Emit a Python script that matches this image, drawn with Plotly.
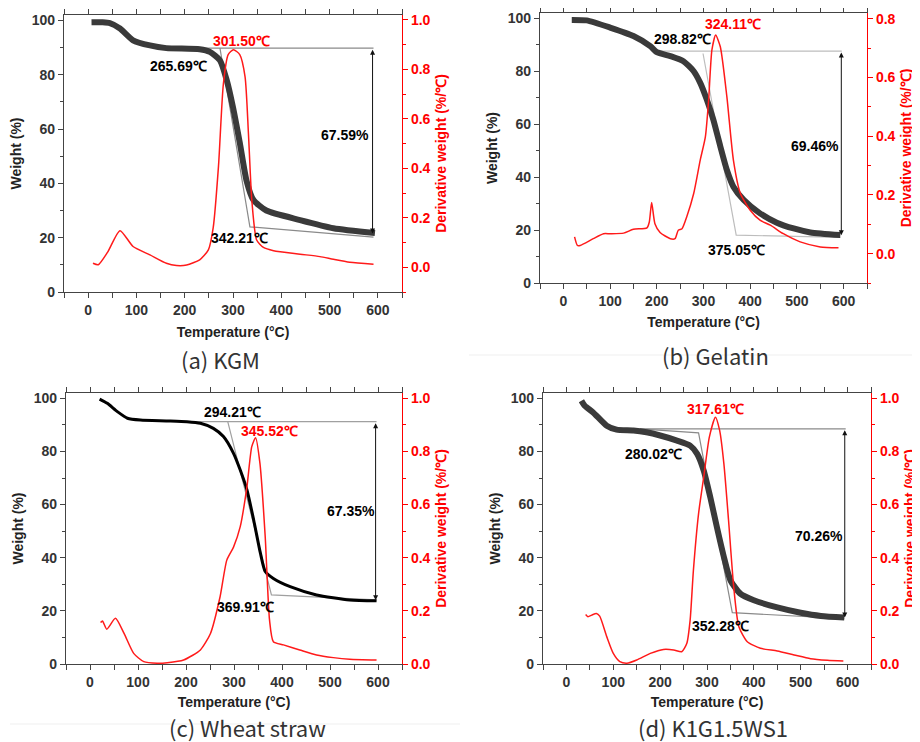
import plotly.graph_objects as go

# ---------------- data ----------------
# (a) KGM
kgm_T = [7, 30, 45, 66, 93, 128, 162, 231, 252, 273, 287, 300, 314, 328, 342, 369, 439, 508, 594]
kgm_W = [99.3, 99.3, 99.0, 97.0, 92.7, 90.8, 89.8, 89.4, 88.4, 85.3, 78, 68, 55, 41, 34, 30, 26.5, 23.5, 21.7]
kgm_dT = [10, 21, 40, 66, 93, 128, 162, 183, 204, 231, 249, 259, 270, 280, 290, 301, 314, 325, 332, 339, 349, 363, 384, 439, 480, 508, 542, 591]
kgm_D = [0.016, 0.010, 0.06, 0.148, 0.084, 0.05, 0.016, 0.007, 0.009, 0.03, 0.07, 0.16, 0.41, 0.74, 0.86, 0.88, 0.86, 0.77, 0.54, 0.27, 0.11, 0.08, 0.067, 0.053, 0.043, 0.032, 0.02, 0.012]
kgm_tan_x = [148, 591, None, 273, 335, 591]
kgm_tan_y = [89.8, 89.8, None, 89.8, 24.0, 20.2]

# (b) Gelatin
gel_T = [18, 50, 100, 150, 186, 200, 229, 257, 279, 293, 307, 321, 336, 350, 364, 386, 421, 457, 493, 529, 593]
gel_W = [99.4, 99.2, 96.5, 93.3, 89.5, 87.2, 85.7, 83.8, 80, 75.6, 69.3, 61.7, 51.6, 42.7, 36.4, 31.4, 26.3, 22.8, 20.6, 19.1, 18.1]
gel_dT = [24, 30, 36, 64, 86, 100, 129, 150, 179, 184, 189, 196, 207, 229, 239, 246, 254, 264, 279, 293, 304, 311, 318, 326, 336, 350, 364, 379, 400, 421, 443, 471, 507, 550, 589]
gel_D = [0.057, 0.028, 0.028, 0.051, 0.068, 0.068, 0.07, 0.083, 0.088, 0.108, 0.174, 0.102, 0.072, 0.051, 0.051, 0.08, 0.085, 0.125, 0.205, 0.319, 0.398, 0.524, 0.694, 0.745, 0.705, 0.535, 0.319, 0.205, 0.148, 0.114, 0.097, 0.068, 0.04, 0.023, 0.02]
gel_tan_x = [200, 596, None, 299, 370, 593]
gel_tan_y = [87.6, 87.6, None, 86.7, 18.1, 17.2]

# (c) Wheat straw
ws_T = [20, 36, 57, 78, 105, 161, 202, 230, 257, 278, 299, 313, 327, 341, 355, 365, 382, 417, 472, 541, 597]
ws_W = [99.7, 98.1, 95, 92.5, 91.8, 91.5, 91.2, 90.6, 88.7, 85.6, 79.3, 73, 65.5, 54.2, 41.7, 34.8, 32.2, 29.1, 26, 24.1, 23.8]
ws_dT = [22, 26, 35, 53, 71, 91, 112, 140, 161, 195, 230, 251, 271, 285, 299, 313, 327, 337, 345, 354, 365, 374, 382, 403, 437, 472, 507, 541, 597]
ws_D = [0.156, 0.162, 0.131, 0.172, 0.115, 0.04, 0.009, 0.003, 0.005, 0.015, 0.053, 0.115, 0.253, 0.391, 0.44, 0.517, 0.668, 0.818, 0.852, 0.756, 0.48, 0.166, 0.084, 0.072, 0.053, 0.034, 0.024, 0.018, 0.015]
ws_tan_x = [216, 597, None, 287, 378, 597]
ws_tan_y = [91.2, 91.2, None, 91.2, 26.0, 24.1]

# (d) K1G1.5WS1
mix_T = [32, 39, 57, 86, 107, 143, 171, 200, 236, 264, 279, 293, 307, 321, 336, 350, 371, 400, 450, 500, 543, 593]
mix_W = [99.1, 97.2, 94.7, 89.7, 88.2, 87.9, 87.2, 86, 84.1, 82.2, 79.1, 72.8, 62.8, 51.6, 40.3, 31.5, 26.5, 24, 21.3, 19.3, 18.1, 17.5]
mix_dT = [41, 46, 54, 64, 71, 86, 100, 114, 129, 150, 179, 207, 229, 246, 257, 264, 271, 282, 293, 305, 318, 327, 336, 346, 357, 368, 386, 414, 450, 486, 521, 557, 591]
mix_D = [0.186, 0.178, 0.184, 0.19, 0.18, 0.103, 0.04, 0.009, 0.003, 0.015, 0.04, 0.055, 0.053, 0.046, 0.078, 0.165, 0.353, 0.566, 0.703, 0.854, 0.929, 0.879, 0.754, 0.541, 0.29, 0.14, 0.084, 0.059, 0.049, 0.034, 0.02, 0.014, 0.011]
mix_tan_x = [157, 596, None, 157, 282, 354, 593]
mix_tan_y = [88.5, 88.5, None, 88.5, 87.0, 19.3, 17.1]

# arrows: (x, top, bottom)
arrows = [(589, 89.8, 21.5), (595, 87.6, 18.0), (595, 91.2, 24.0), (594, 88.5, 17.5)]

# annotation labels: (text, x, y, color)
labels_a = [("301.50℃", 318, 92.6, "red"), ("265.69℃", 187, 83.2, "black"), ("342.21℃", 313, 19.8, "black"), ("67.59%", 532, 57.8, "black")]
labels_b = [("324.11℃", 364, 97.7, "red"), ("298.82℃", 254, 92.3, "black"), ("375.05℃", 371, 12.4, "black"), ("69.46%", 539, 51.6, "black")]
labels_c = [("294.21℃", 297, 94.7, "black"), ("345.52℃", 374, 87.7, "red"), ("369.91℃", 323, 21.6, "black"), ("67.35%", 543, 57.6, "black")]
labels_d = [("317.61℃", 318, 96.1, "red"), ("280.02℃", 186, 79.1, "black"), ("352.28℃", 329, 14.3, "black"), ("70.26%", 539, 48.0, "black")]

captions = ["(a) KGM", "(b) Gelatin", "(c) Wheat straw", "(d) K1G1.5WS1"]
x_ticks = [0, 100, 200, 300, 400, 500, 600]
w_ticks = [0, 20, 40, 60, 80, 100]

# ---------------- layout geometry (page pixels; page has an 8px body margin) ----------------
OFF = 8
W, H = 912, 734


def fx(px):
    return (px - OFF) / W


def fy(py):
    return 1 - (py - OFF) / H


panels = [
    dict(T=kgm_T, Wt=kgm_W, dT=kgm_dT, D=kgm_D, tx=kgm_tan_x, ty=kgm_tan_y, labels=labels_a,
         box=(64, 402, 15, 292), r_range=[-0.1, 1.02], r_max=1.0, tg_color="#3a3a3a", tg_w=6,
         cap=(220, 359), tan_color="#8a8a8a", standoff=10),
    dict(T=gel_T, Wt=gel_W, dT=gel_dT, D=gel_D, tx=gel_tan_x, ty=gel_tan_y, labels=labels_b,
         box=(540, 867, 13, 283), r_range=[-0.1, 0.82], r_max=0.8, tg_color="#3a3a3a", tg_w=6,
         cap=(715, 355), tan_color="#bdbdbd", standoff=9),
    dict(T=ws_T, Wt=ws_W, dT=ws_dT, D=ws_D, tx=ws_tan_x, ty=ws_tan_y, labels=labels_c,
         box=(66, 402, 393, 664), r_range=[0, 1.02], r_max=1.0, tg_color="#000000", tg_w=3,
         cap=(247, 727), tan_color="#a0a0a0", standoff=8),
    dict(T=mix_T, Wt=mix_W, dT=mix_dT, D=mix_D, tx=mix_tan_x, ty=mix_tan_y, labels=labels_d,
         box=(543, 871, 393, 664), r_range=[0, 1.02], r_max=1.0, tg_color="#3a3a3a", tg_w=6,
         cap=(713, 727), tan_color="#8a8a8a", standoff=8),
]

FONT = "Liberation Sans, Arial, sans-serif"
fig = go.Figure()
layout = dict(
    width=W, height=H, margin=dict(l=0, r=0, t=0, b=0),
    paper_bgcolor="white", plot_bgcolor="white", showlegend=False,
    font=dict(family=FONT, color="#222"),
)
annotations = []
shapes = [
    dict(type="line", xref="paper", yref="paper", x0=fx(469), x1=1, y0=fy(355), y1=fy(355),
         line=dict(color="#efefef", width=1)),
    dict(type="line", xref="paper", yref="paper", x0=fx(10), x1=fx(460), y0=fy(724), y1=fy(724),
         line=dict(color="#efefef", width=1)),
]
tickfont_dark = dict(family=FONT, size=14, color="#333")
tickfont_red = dict(family=FONT, size=14, color="red")

for i, p in enumerate(panels):
    n = i + 1
    xk = "x" if n == 1 else f"x{n}"
    yl_i = 2 * i + 1
    yr_i = 2 * i + 2
    ylk = "y" if yl_i == 1 else f"y{yl_i}"
    yrk = f"y{yr_i}"
    x0, x1, y0, y1 = p["box"]
    xdom = [fx(x0), fx(x1)]
    ydom = [fy(y1), fy(y0)]

    # tangent lines
    fig.add_trace(go.Scatter(x=p["tx"], y=p["ty"], mode="lines", line=dict(color=p["tan_color"], width=1.2),
                             xaxis=xk, yaxis=ylk, hoverinfo="skip"))
    # TG
    fig.add_trace(go.Scatter(x=p["T"], y=p["Wt"], mode="lines",
                             line=dict(color=p["tg_color"], width=p["tg_w"], shape="spline", smoothing=0.6),
                             xaxis=xk, yaxis=ylk))
    # DTG
    fig.add_trace(go.Scatter(x=p["dT"], y=p["D"], mode="lines",
                             line=dict(color="#ff1a1a", width=1.5, shape="spline", smoothing=0.6),
                             xaxis=xk, yaxis=yrk))

    layout["xaxis" if n == 1 else f"xaxis{n}"] = dict(
        domain=xdom, anchor=ylk, range=[-50, 650], tickvals=x_ticks,
        ticktext=[f"<b>{v}</b>" for v in x_ticks], ticks="outside", ticklen=5,
        tickwidth=1, tickcolor="#444", linecolor="#444", linewidth=1.2, showline=True, mirror="allticks",
        showgrid=False, zeroline=False, tickfont=tickfont_dark,
        minor=dict(dtick=50, tick0=0, ticks="outside", ticklen=3, tickcolor="#444"),
        title=dict(text="<b>Temperature (°C)</b>", font=dict(size=14, color="#222"), standoff=p["standoff"]),
        automargin=False,
    )
    layout["yaxis" if yl_i == 1 else f"yaxis{yl_i}"] = dict(
        domain=ydom, anchor=xk, range=[0, 102], tickvals=w_ticks,
        ticktext=[f"<b>{v}</b>" for v in w_ticks], ticks="outside",
        ticklen=5, tickwidth=1, tickcolor="#444", linecolor="#444", linewidth=1.2, showline=True,
        showgrid=False, zeroline=False, tickfont=tickfont_dark,
        minor=dict(dtick=10, tick0=0, ticks="outside", ticklen=3, tickcolor="#444"),
        title=dict(text="<b>Weight (%)</b>", font=dict(size=14, color="#222"), standoff=6),
        automargin=False,
    )
    rt = [round(v * 0.2, 1) for v in range(0, 6) if v * 0.2 <= p["r_max"] + 1e-9]
    layout[f"yaxis{yr_i}"] = dict(
        overlaying=ylk, anchor=xk, side="right", range=p["r_range"], tickvals=rt,
        ticktext=[f"<b>{v:.1f}</b>" for v in rt], ticks="outside", ticklen=5, tickwidth=1, tickcolor="red",
        linecolor="red", linewidth=1.2, showline=True, showgrid=False, zeroline=False,
        tickfont=tickfont_red,
        minor=dict(dtick=0.1, tick0=0, ticks="outside", ticklen=3, tickcolor="red"),
        title=dict(text="<b>Derivative weight (%/℃)</b>", font=dict(size=14, color="red"), standoff=6),
        automargin=False,
    )

    # double-headed arrow
    ax_x, a_top, a_bot = arrows[i]
    annotations.append(dict(x=ax_x, y=a_bot, ax=ax_x, ay=a_top, xref=xk, yref=ylk, axref=xk, ayref=ylk,
                            text="", showarrow=True, arrowhead=2, startarrowhead=2, arrowside="end+start",
                            arrowsize=1, arrowwidth=1, arrowcolor="#111", standoff=0, startstandoff=0))
    # text labels
    for txt, lx, ly, col in p["labels"]:
        annotations.append(dict(x=lx, y=ly, xref=xk, yref=ylk, text=f"<b>{txt}</b>", showarrow=False,
                                xanchor="center", yanchor="middle",
                                font=dict(size=14, color=col, family=FONT)))
    # caption
    cx, cy = p["cap"]
    annotations.append(dict(x=fx(cx), y=fy(cy), xref="paper", yref="paper", text=captions[i],
                            showarrow=False, xanchor="center", yanchor="middle",
                            font=dict(size=22, color="#333", family="Noto Sans CJK SC, Noto Sans, sans-serif")))

layout["annotations"] = annotations
layout["shapes"] = shapes
fig.update_layout(**layout)
fig.write_html("out.html")
